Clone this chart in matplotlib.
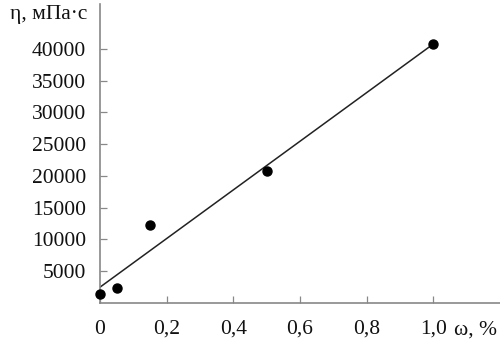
import numpy as np
import matplotlib
matplotlib.use("Agg")
import matplotlib.pyplot as plt

# data
conc = [0.0, 0.05, 0.15, 0.5, 1.0]
visc = [1400, 2400, 12300, 20700, 40700]
xticks = [0, 0.2, 0.4, 0.6, 0.8, 1.0]
xticklabels = ["0", "0,2", "0,4", "0,6", "0,8", "1,0"]
yticks = [5000, 10000, 15000, 20000, 25000, 30000, 35000, 40000]

plt.rcParams['font.family'] = ['Liberation Serif', 'DejaVu Serif']

fig = plt.figure(figsize=(5, 3.45), dpi=100)
ax = fig.add_axes([0.2, 0.1217, 0.8, 0.866])

slope, intercept = np.polyfit(conc, visc, 1)
xl = np.array([0.0, 1.0])
ax.plot(xl, slope * xl + intercept, color='#222222', lw=1.1, zorder=2)
ax.plot(conc, visc, 'o', color='black', ms=6.5, zorder=3, clip_on=False)

ax.set_xlim(0, 1.2)
ax.set_ylim(0, 47000)
ax.set_xticks(xticks)
ax.set_xticklabels(xticklabels)
ax.set_yticks(yticks)
ax.set_yticklabels([str(v) for v in yticks])

for s in ['top', 'right']:
    ax.spines[s].set_visible(False)
for s in ['left', 'bottom']:
    ax.spines[s].set_color('#888888')
    ax.spines[s].set_linewidth(1.2)

fs = 15.5
ax.tick_params(axis='both', direction='in', length=5, width=0.9, color='#888888',
               labelsize=fs, labelcolor='#111111')
ax.tick_params(axis='y', pad=10)
ax.tick_params(axis='x', pad=12)

fig.text(87/500, 1 - 15/345, "η, мПа·с", ha='right', va='center', fontsize=fs, color='#111111')
fig.text(454/500, 1 - 330/345, "ω, %", ha='left', va='center', fontsize=fs, color='#111111')

fig.savefig("out.png", dpi=100)
